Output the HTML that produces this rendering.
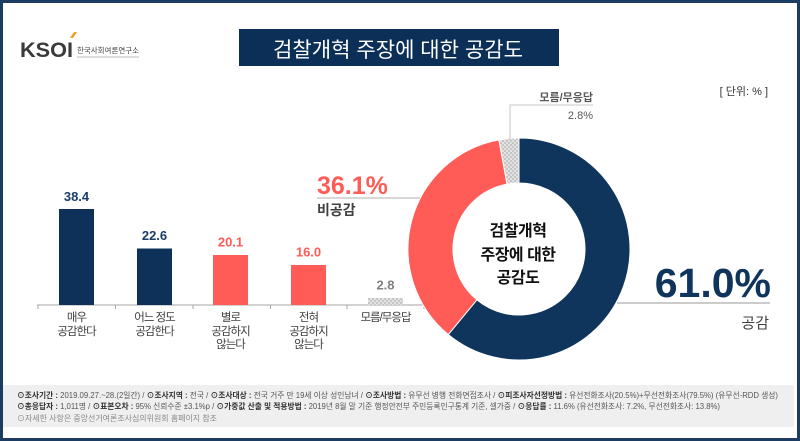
<!DOCTYPE html>
<html><head><meta charset="utf-8"><style>
html,body{margin:0;padding:0;background:#fff;}
svg{display:block;}
text{font-family:"Liberation Sans","Noto Sans CJK KR",sans-serif;}
</style></head><body>
<svg width="800" height="441" viewBox="0 0 800 441" xmlns="http://www.w3.org/2000/svg">
<defs>
<pattern id="chk" width="4" height="4" patternUnits="userSpaceOnUse">
<rect width="4" height="4" fill="#c6c6c6"/>
<rect width="2" height="2" fill="#e2e2e2"/>
<rect x="2" y="2" width="2" height="2" fill="#e2e2e2"/>
</pattern>
</defs>
<!-- frame -->
<rect x="0" y="0" width="800" height="441" fill="#1c3c62"/>
<rect x="3" y="3" width="794" height="435" fill="#ffffff"/>

<!-- logo -->
<text x="20" y="57" font-size="21" font-weight="bold" fill="#3a3a3a" textLength="53" lengthAdjust="spacingAndGlyphs">KSOI</text>
<polygon points="70,38 73,38 77,32 74,32" fill="#f39c1f"/>
<text x="77" y="53" font-size="7.5" fill="#444" textLength="62" lengthAdjust="spacingAndGlyphs">한국사회여론연구소</text>
<line x1="77" y1="57" x2="139" y2="57" stroke="#bbbbbb" stroke-width="1"/>

<!-- title -->
<rect x="239" y="29" width="320" height="37" fill="#0b2f57"/>
<text x="273" y="57" font-size="21" fill="#ffffff" textLength="250" lengthAdjust="spacingAndGlyphs">검찰개혁 주장에 대한 공감도</text>

<text x="768" y="95" font-size="11" fill="#333" text-anchor="end">[ 단위: % ]</text>

<!-- bars -->
<line x1="37" y1="305" x2="424" y2="305" stroke="#a6a6a6" stroke-width="1"/>
<g stroke="#a6a6a6" stroke-width="1">
<line x1="38" y1="305" x2="38" y2="309"/>
<line x1="115.5" y1="305" x2="115.5" y2="309"/>
<line x1="193" y1="305" x2="193" y2="309"/>
<line x1="270.5" y1="305" x2="270.5" y2="309"/>
<line x1="347" y1="305" x2="347" y2="309"/>
<line x1="424" y1="305" x2="424" y2="309"/>
</g>
<rect x="59" y="209" width="35" height="96" fill="#0d3159"/>
<rect x="137" y="248.5" width="35" height="56.5" fill="#0d3159"/>
<rect x="213" y="255" width="35" height="50" fill="#ff5b57"/>
<rect x="291" y="265" width="35" height="40" fill="#ff5b57"/>
<rect x="368" y="298" width="35" height="7" fill="url(#chk)"/>

<g font-size="13" font-weight="bold" text-anchor="middle">
<text x="76.5" y="201" fill="#1a3d68">38.4</text>
<text x="154.5" y="240" fill="#1a3d68">22.6</text>
<text x="230.5" y="246.5" fill="#ff5b57">20.1</text>
<text x="308.5" y="256.5" fill="#ff5b57">16.0</text>
<text x="385.5" y="289.5" fill="#808080">2.8</text>
</g>
<g font-size="11.5" fill="#404040" text-anchor="middle" letter-spacing="-1">
<text x="76.5" y="321">매우</text>
<text x="76.5" y="335">공감한다</text>
<text x="154.5" y="321">어느 정도</text>
<text x="154.5" y="335">공감한다</text>
<text x="230.5" y="321">별로</text>
<text x="230.5" y="335">공감하지</text>
<text x="230.5" y="348">않는다</text>
<text x="308.5" y="321">전혀</text>
<text x="308.5" y="335">공감하지</text>
<text x="308.5" y="348">않는다</text>
<text x="385.5" y="321">모름/무응답</text>
</g>

<!-- donut -->
<path d="M519,138 A111,111 0 1 1 448.25,334.53 L476.93,299.85 A66,66 0 1 0 519,183 Z" fill="#0f355d" stroke="#fff" stroke-width="1"/>
<path d="M448.25,334.53 A111,111 0 0 1 498.89,139.84 L507.04,184.1 A66,66 0 0 0 476.93,299.85 Z" fill="#ff5b57" stroke="#fff" stroke-width="1"/>
<path d="M498.89,139.84 A111,111 0 0 1 519,138 L519,183 A66,66 0 0 0 507.04,184.1 Z" fill="url(#chk)" stroke="#fff" stroke-width="1"/>

<g font-size="16" font-weight="bold" fill="#111" text-anchor="middle" letter-spacing="-0.5">
<text x="518" y="236">검찰개혁</text>
<text x="518" y="260">주장에 대한</text>
<text x="518" y="283">공감도</text>
</g>

<!-- leader lines -->
<polyline points="510,140 510,105 593,105" fill="none" stroke="#c8c8c8" stroke-width="1"/>
<text x="593" y="101" font-size="11" font-weight="bold" fill="#595959" text-anchor="end">모름/무응답</text>
<text x="593" y="119" font-size="11" fill="#595959" text-anchor="end">2.8%</text>

<line x1="317" y1="198" x2="420" y2="198" stroke="#b0b0b0" stroke-width="1"/>
<text x="317" y="194" font-size="25" font-weight="bold" fill="#ff5b57">36.1%</text>
<text x="317" y="215" font-size="14" font-weight="bold" fill="#404040">비공감</text>

<line x1="617" y1="303" x2="770" y2="303" stroke="#9a9a9a" stroke-width="1"/>
<text x="771" y="297" font-size="41" font-weight="bold" fill="#0f355d" text-anchor="end">61.0%</text>
<text x="769" y="328" font-size="15" fill="#404040" text-anchor="end">공감</text>

<!-- footer -->
<rect x="3" y="385" width="791" height="42" fill="#efefef"/>
<text x="17" y="398" font-size="8" fill="#555" textLength="761" lengthAdjust="spacingAndGlyphs"><tspan font-weight="bold" fill="#333">⊙조사기간 :</tspan> 2019.09.27.~28.(2일간)  / <tspan font-weight="bold" fill="#333">⊙조사지역 :</tspan> 전국 / <tspan font-weight="bold" fill="#333">⊙조사대상 :</tspan> 전국 거주 만 19세 이상 성인남녀 / <tspan font-weight="bold" fill="#333">⊙조사방법 :</tspan> 유무선 병행 전화면접조사 / <tspan font-weight="bold" fill="#333">⊙피조사자선정방법 :</tspan> 유선전화조사(20.5%)+무선전화조사(79.5%) (유무선-RDD 생성)</text>
<text x="17" y="409" font-size="8" fill="#555" textLength="703" lengthAdjust="spacingAndGlyphs"><tspan font-weight="bold" fill="#333">⊙총응답자 :</tspan> 1,011명 / <tspan font-weight="bold" fill="#333">⊙표본오차 :</tspan> 95% 신뢰수준 ±3.1%p / <tspan font-weight="bold" fill="#333">⊙가중값 산출 및 적용방법 :</tspan> 2019년 8월 말 기준 행정안전부 주민등록인구통계 기준, 셀가중 / <tspan font-weight="bold" fill="#333">⊙응답률 :</tspan> 11.6% (유선전화조사: 7.2%, 무선전화조사: 13.8%)</text>
<text x="17" y="421" font-size="8" fill="#888" textLength="200" lengthAdjust="spacingAndGlyphs">⊙자세한 사항은 중앙선거여론조사심의위원회 홈페이지 참조</text>
</svg>
</body></html>
